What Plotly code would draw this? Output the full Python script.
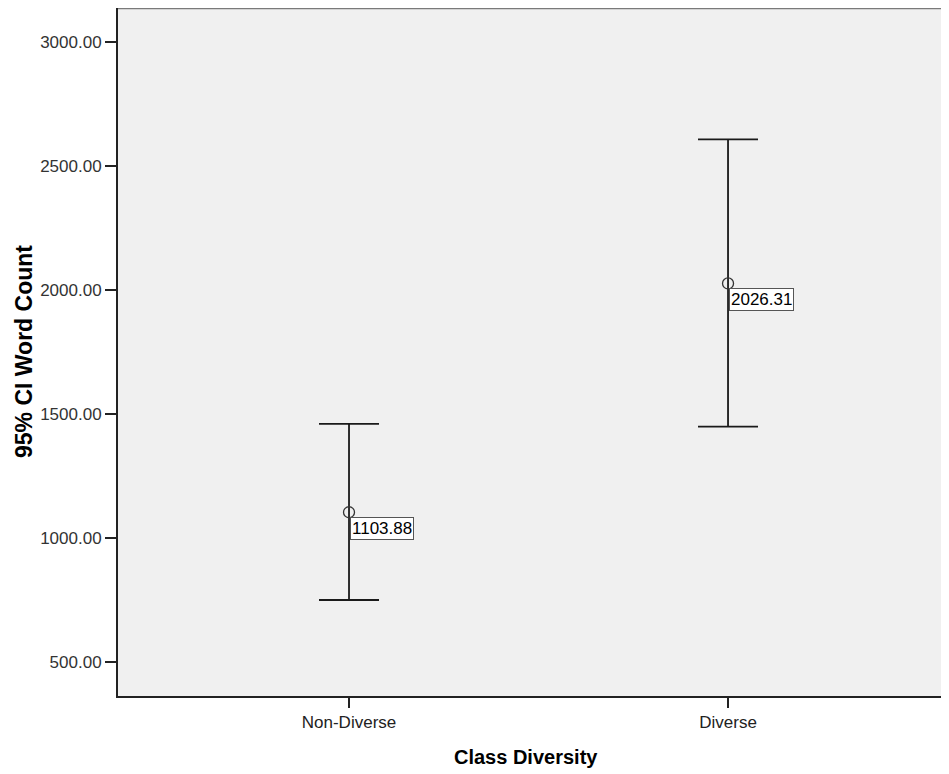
import plotly.graph_objects as go

categories = ["Non-Diverse", "Diverse"]
means = [1103.88, 2026.31]
ci_upper = [1460, 2607]
ci_lower = [750, 1449]
mean_labels = ["1103.88", "2026.31"]
y_ticks = [500, 1000, 1500, 2000, 2500, 3000]
y_tick_text = ["500.00", "1000.00", "1500.00", "2000.00", "2500.00", "3000.00"]

err_plus = [u - m for u, m in zip(ci_upper, means)]
err_minus = [m - l for m, l in zip(means, ci_lower)]

FONT = "Liberation Sans, Arial, sans-serif"

fig = go.Figure()
fig.add_trace(go.Scatter(
    x=[0, 1], y=means, mode="markers",
    marker=dict(symbol="circle-open", size=11, color="#333333", line=dict(width=1.3)),
    error_y=dict(type="data", symmetric=False, array=err_plus, arrayminus=err_minus,
                 color="#1a1a1a", thickness=1.8, width=30),
    showlegend=False, hoverinfo="skip",
))

for i, (m, lab) in enumerate(zip(means, mean_labels)):
    fig.add_annotation(
        x=i, y=m, text=lab, showarrow=False,
        xanchor="left", yanchor="top", xshift=1, yshift=-5,
        font=dict(family=FONT, size=17, color="#000000"),
        bgcolor="#ffffff", bordercolor="#555555", borderwidth=1, borderpad=1,
    )

# axis titles
fig.add_annotation(
    xref="paper", yref="paper", x=0.5, y=0, xshift=-8, yshift=-61,
    xanchor="center", yanchor="middle",
    text="<b>Class Diversity</b>", showarrow=False,
    font=dict(family=FONT, size=20, color="#000000"),
)
fig.add_annotation(
    xref="paper", yref="paper", x=0, y=0.5, xshift=-94, xanchor="center", yanchor="middle",
    text="<b>95% CI Word Count</b>", showarrow=False, textangle=-90,
    font=dict(family=FONT, size=23, color="#000000"),
)

# top border
fig.add_shape(type="line", xref="paper", yref="paper", x0=0, x1=1, y0=1, y1=1,
              line=dict(color="#7a7a7a", width=2.5))

# the page adds an 8px body margin, so the figure is sized/offset to compensate
fig.update_layout(
    width=941, height=766,
    margin=dict(l=110, r=0, t=0, b=78, autoexpand=False),
    paper_bgcolor="#ffffff", plot_bgcolor="#f0f0f0",
    font=dict(family=FONT, color="#000000"),
    xaxis=dict(
        range=[-0.6095, 1.583], tickvals=[0, 1], ticktext=categories,
        ticks="outside", ticklen=10, tickwidth=1.5, tickcolor="#222222",
        showgrid=False, zeroline=False, automargin=False,
        showline=True, linecolor="#222222", linewidth=2,
        tickfont=dict(size=17, color="#222222", family=FONT),
    ),
    yaxis=dict(
        range=[363, 3137], tickvals=y_ticks, ticktext=y_tick_text,
        ticks="outside", ticklen=11, tickwidth=1.5, tickcolor="#222222",
        showgrid=False, zeroline=False, automargin=False,
        showline=True, linecolor="#222222", linewidth=2,
        tickfont=dict(size=17, color="#333333", family=FONT),
    ),
)

fig.write_html("out.html")
